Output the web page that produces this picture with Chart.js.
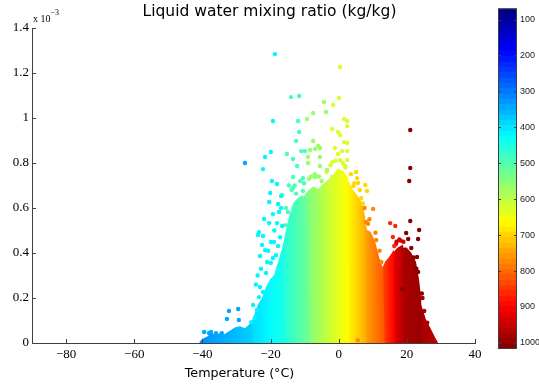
<!DOCTYPE html>
<html>
<head>
<meta charset="utf-8">
<script src="https://cdn.jsdelivr.net/npm/chart.js@4.4.1/dist/chart.umd.min.js"></script>
<style>
  html, body { margin: 0; padding: 0; background: #fff; }
  #wrap { position: relative; width: 539px; height: 385px; }
  #main { position: absolute; left: 0; top: 0; }
  #cbar { position: absolute; left: 480px; top: 0; }
</style>
</head>
<body>
<div id="wrap">
  <canvas id="main" width="539" height="385"></canvas>
  <canvas id="cbar" width="59" height="385"></canvas>
</div>
<script>
// pressure (hPa) of each group of points
const levels = [350, 410, 490, 560, 630, 700, 770, 865, 935, 1010, 975];

// dense part of each group, traced along its top edge
// temperature in °C, mixing ratio in 10^-3 kg/kg
const coreTemp = [
  [-40.7, -39.8, -38.4, -37.2, -36.0, -34.9, -33.4, -31.9, -30.4, -29.0, -27.5, -26.0, -25.4],
  [-26.9, -26.0, -25.4, -24.6, -23.4, -22.2, -21.0, -19.9, -18.7, -17.5, -16.3, -15.7],
  [-16.9, -16.3, -15.2, -14.3, -13.1, -11.9, -10.8, -9.6, -9.0],
  [-10.5, -10.5, -9.0, -7.5, -6.0, -4.6, -4.3],
  [-4.6, -4.6, -3.1, -1.6, -0.2, 1.3, 2.5, 2.8],
  [2.5, 2.5, 3.9, 5.4, 6.6, 7.5, 7.8],
  [6.9, 6.9, 8.0, 9.2, 10.4, 11.6, 12.7, 13.2],
  [12.2, 12.2, 13.0, 13.9, 15.1, 15.9, 16.3],
  [15.1, 15.1, 16.3, 17.4, 18.6, 19.2],
  [17.4, 17.4, 18.6, 19.8, 21.0, 22.4, 23.3, 23.9, 24.2],
  [22.0, 22.0, 23.3, 23.9, 25.4, 26.8, 28.3, 28.9]
];
const coreMix = [
  [0, 0.015, 0.025, 0.04, 0.03, 0.04, 0.035, 0.05, 0.065, 0.07, 0.06, 0.08, 0],
  [0, 0.05, 0.09, 0.12, 0.17, 0.2, 0.25, 0.28, 0.3, 0.36, 0.42, 0],
  [0, 0.42, 0.5, 0.56, 0.62, 0.64, 0.65, 0.64, 0],
  [0, 0.64, 0.67, 0.69, 0.68, 0.7, 0],
  [0, 0.7, 0.72, 0.74, 0.77, 0.76, 0.73, 0],
  [0, 0.72, 0.68, 0.65, 0.62, 0.56, 0],
  [0, 0.58, 0.5, 0.49, 0.45, 0.38, 0.33, 0],
  [0, 0.3, 0.33, 0.36, 0.38, 0.4, 0],
  [0, 0.38, 0.4, 0.42, 0.43, 0],
  [0, 0.4, 0.42, 0.42, 0.4, 0.36, 0.28, 0.2, 0],
  [0, 0.3, 0.25, 0.17, 0.1, 0.06, 0.015, 0]
];

// single points standing out of the dense part
const dotTemp = [
  [-32.2, -29.5, -32.8, -29.3, -37.5, -36.0, -34.3, -39.5, -38.1, -27.5],
  [-18.7, -19.3, -19.9, -21.6, -22.2, -19.6, -18.1, -20.1, -16.9, -20.4, -17.8, -16.9, -17.5,
   -19.3, -21.9, -20.4, -18.1, -23.4, -23.7, -22.2, -19.9, -19.0, -22.5, -17.8, -21.6, -23.1,
   -19.3, -21.0, -19.9, -21.3, -23.1, -22.2, -23.4, -25.1, -24.0, -25.7, -24.6,
   -24.3, -23.8, -22.8, -20.7, -18.4, -17.2, -16.6, -18.9],
  [-14.0, -11.6, -11.9, -11.6, -12.5, -15.2, -11.0, -9.9, -13.4, -12.2, -13.4, -10.5, -13.4,
   -10.5, -16.6, -15.7, -14.9, -12.5, -15.5, -14.6, -13.8, -12.9, -11.3, -10.2],
  [-9.3, -7.5, -4.3, -3.7, -7.5, -6.0, -5.5, -6.9, -8.4, -9.0, -5.5, -9.0, -5.5, -6.9, -7.5,
   -3.4, -8.2, -5.0, -8.7, -7.0, -5.8],
  [0.4, 0.1, -1.6, 1.6, 2.5, 2.5, -1.9, -0.2, 0.4, 1.6, 2.5, -1.1, 1.0, 2.5, -0.2, -1.9, 0.4,
   2.5, 1.9, -1.9, -3.1, -3.6, -2.4, -0.9, 1.2, 2.0],
  [5.1, 5.4, 4.3, 5.7, 7.8, 8.3, 6.6, 3.6, 4.6, 6.2, 7.1],
  [10.1, 8.0, 11.0, 12.5, 5.6, 9.0, 7.6, 8.6, 10.8, 12.0],
  [15.1, 16.6, 15.9, 16.3],
  [17.0, 18.2, 16.8, 17.8, 19.0],
  [21.0, 21.0, 20.7, 21.0, 23.6, 19.8, 23.3, 20.4, 21.3, 23.0, 23.3, 18.6, 22.0, 22.8, 24.4],
  [25.1, 24.6, 26.0]
];
const dotMix = [
  [0.142, 0.151, 0.107, 0.102, 0.049, 0.044, 0.044, 0.049, 0.044, 0.80],
  [1.284, 0.987, 0.849, 0.827, 0.773, 0.72, 0.707, 0.667, 0.653, 0.627, 0.618, 0.60, 0.582,
   0.573, 0.551, 0.533, 0.533, 0.493, 0.48, 0.476, 0.449, 0.449, 0.436, 0.431, 0.413, 0.387,
   0.378, 0.36, 0.356, 0.311, 0.249, 0.227, 0.204, 0.169, 0.147, 0.093, 0.111,
   0.26, 0.3, 0.33, 0.41, 0.39, 0.47, 0.52, 0.5],
  [1.093, 1.098, 0.987, 0.938, 0.898, 0.84, 0.853, 0.853, 0.818, 0.787, 0.738, 0.733, 0.689,
   0.676, 0.658, 0.524, 0.582, 0.664, 0.6, 0.7, 0.68, 0.7, 0.72, 0.71],
  [0.996, 1.022, 1.071, 1.027, 0.898, 0.876, 0.867, 0.862, 0.858, 0.827, 0.827, 0.80, 0.787,
   0.738, 0.68, 0.769, 0.74, 0.72, 0.73, 0.75, 0.74],
  [1.227, 1.089, 1.058, 0.996, 0.987, 0.964, 0.951, 0.938, 0.924, 0.893, 0.889, 0.867, 0.853,
   0.853, 0.84, 0.804, 0.813, 0.813, 0.787, 0.738, 0.689, 0.76, 0.79, 0.81, 0.8, 0.78],
  [0.76, 0.733, 0.698, 0.711, 0.702, 0.676, 0.644, 0.75, 0.71, 0.68, 0.62],
  [0.596, 0.538, 0.458, 0.36, 0.012, 0.55, 0.6, 0.53, 0.49, 0.41],
  [0.533, 0.52, 0.471, 0.431],
  [0.45, 0.455, 0.44, 0.46, 0.45],
  [0.947, 0.778, 0.72, 0.542, 0.502, 0.489, 0.462, 0.462, 0.422, 0.382, 0.316, 0.24, 0.38, 0.33, 0.22],
  [0.142, 0.2, 0.09]
];

const xTicks = [-80, -60, -40, -20, 0, 20, 40];
const yTicks = [0, 0.2, 0.4, 0.6, 0.8, 1, 1.2, 1.4];
const cbTicks = [100, 200, 300, 400, 500, 600, 700, 800, 900, 1000];
const cbRange = [69, 1017];

const axisColor = "#404040";

// matlab style jet colormap
function jet(f) {
    const c = v => Math.round(255 * Math.max(0, Math.min(1, v)));
    return "rgb(" + c(Math.min(4 * f - 1.5, -4 * f + 4.5)) + "," +
        c(Math.min(4 * f - 0.5, -4 * f + 3.5)) + "," +
        c(Math.min(4 * f + 0.5, -4 * f + 2.5)) + ")";
}
function pFrac(p) {
    return Math.max(0, Math.min(1, (p - cbRange[0]) / (cbRange[1] - cbRange[0])));
}
function pColor(p) {
    const k = Math.min(63, Math.floor(pFrac(p) * 64));
    return jet((k + 0.5) / 64);
}

// colour of a dense block drifts with temperature, between its neighbours
function coreFill(i) {
    return c => {
        const { chart } = c;
        if (!chart.chartArea) return pColor(levels[i]);
        const x = chart.scales.x;
        const t = coreTemp[i];
        const x0 = x.getPixelForValue(t[0]);
        const x1 = x.getPixelForValue(t[t.length - 1]);
        const pl = i > 0 ? (levels[i - 1] + levels[i]) / 2 : levels[i] - 30;
        const pr = i < levels.length - 1 ? (levels[i] + levels[i + 1]) / 2 : levels[i] - 15;
        const g = chart.ctx.createLinearGradient(x0, 0, x1, 0);
        for (let k = 0; k <= 8; k++) {
            const p = pl + (pr - pl) * k / 8;
            g.addColorStop(k / 8, jet(pFrac(p)));
        }
        return g;
    };
}

const datasets = [];
levels.forEach((p, i) => {
    const col = pColor(p);
    datasets.push({
        type: "line",
        order: 2,
        data: coreTemp[i].map((t, j) => ({ x: t, y: coreMix[i][j] })),
        fill: "origin",
        backgroundColor: coreFill(i),
        borderColor: coreFill(i),
        borderWidth: 2,
        pointRadius: 0,
        tension: 0
    });
    datasets.push({
        order: 1,
        data: dotTemp[i].map((t, j) => ({ x: t, y: dotMix[i][j] })),
        backgroundColor: col,
        borderWidth: 0,
        pointRadius: 2.2
    });
});

// inward ticks, title, axis label and exponent
const decor = {
    id: "decor",
    afterDraw(chart) {
        const { ctx, chartArea: a, scales: { x, y } } = chart;
        ctx.save();
        ctx.strokeStyle = axisColor;
        ctx.lineWidth = 1;
        ctx.beginPath();
        xTicks.forEach(v => {
            const px = Math.round(x.getPixelForValue(v)) + 0.5;
            ctx.moveTo(px, a.bottom);
            ctx.lineTo(px, a.bottom - 4);
        });
        yTicks.forEach(v => {
            const py = Math.round(y.getPixelForValue(v)) + 0.5;
            ctx.moveTo(a.left, py);
            ctx.lineTo(a.left + 4, py);
        });
        ctx.stroke();

        ctx.fillStyle = "#000";
        ctx.textBaseline = "alphabetic";
        ctx.textAlign = "center";
        ctx.font = '15.5px "DejaVu Sans"';
        ctx.fillText("Liquid water mixing ratio (kg/kg)", 269.5, 16);
        ctx.font = '12.7px "DejaVu Sans"';
        ctx.fillText("Temperature (°C)", 239.5, 377);

        ctx.textAlign = "left";
        ctx.font = '10px "Liberation Serif"';
        ctx.fillText("x 10", 33, 22);
        ctx.font = '8px "Liberation Serif"';
        ctx.fillText("\u22123", 50.5, 15);
        ctx.restore();
    }
};

new Chart(document.getElementById("main"), {
    type: "scatter",
    data: { datasets },
    options: {
        responsive: false,
        animation: false,
        layout: { padding: { top: 28, right: 64, bottom: 0, left: 0 } },
        plugins: { legend: { display: false }, tooltip: { enabled: false } },
        scales: {
            x: {
                type: "linear",
                min: -90,
                max: 40,
                afterBuildTicks: s => { s.ticks = xTicks.map(v => ({ value: v })); },
                afterFit: s => { s.height = 42; },
                grid: { display: false, drawTicks: false },
                border: { display: true, color: axisColor, width: 1 },
                ticks: {
                    font: { family: "Liberation Serif", size: 13 },
                    color: "#000",
                    padding: 4,
                    maxRotation: 0,
                    callback: v => String(v).replace("-", "\u2212")
                }
            },
            y: {
                min: 0,
                max: 1.4,
                afterBuildTicks: s => { s.ticks = yTicks.map(v => ({ value: v })); },
                afterFit: s => { s.width = 32; },
                grid: { display: false, drawTicks: false },
                border: { display: true, color: axisColor, width: 1 },
                ticks: {
                    font: { family: "Liberation Serif", size: 13 },
                    color: "#000",
                    padding: 3,
                    callback: v => String(+v.toFixed(1))
                }
            }
        }
    },
    plugins: [decor]
});

// colorbar
const cbFrame = {
    id: "cbFrame",
    afterDraw(chart) {
        const { ctx, chartArea: a, scales: { y } } = chart;
        ctx.save();
        ctx.strokeStyle = axisColor;
        ctx.lineWidth = 1;
        ctx.strokeRect(a.left + 0.5, a.top + 0.5, a.right - a.left - 1, a.bottom - a.top - 1);
        ctx.beginPath();
        cbTicks.forEach(v => {
            const py = Math.round(y.getPixelForValue(v)) + 0.5;
            ctx.moveTo(a.left, py);
            ctx.lineTo(a.left + 3, py);
            ctx.moveTo(a.right - 3, py);
            ctx.lineTo(a.right, py);
        });
        ctx.stroke();
        ctx.restore();
    }
};

new Chart(document.getElementById("cbar"), {
    type: "bar",
    data: {
        labels: [""],
        datasets: [{
            data: [cbRange],
            barPercentage: 1,
            categoryPercentage: 1,
            borderWidth: 0,
            backgroundColor: c => {
                const a = c.chart.chartArea;
                if (!a) return "transparent";
                const g = c.chart.ctx.createLinearGradient(0, a.top, 0, a.bottom);
                for (let k = 0; k < 64; k++) {
                    const col = jet((k + 0.5) / 64);
                    g.addColorStop(k / 64, col);
                    g.addColorStop((k + 1) / 64, col);
                }
                return g;
            }
        }]
    },
    options: {
        responsive: false,
        animation: false,
        layout: { padding: { left: 18, top: 8, bottom: 36, right: 0 } },
        plugins: { legend: { display: false }, tooltip: { enabled: false } },
        scales: {
            x: { display: false },
            y: {
                position: "right",
                reverse: true,
                min: cbRange[0],
                max: cbRange[1],
                afterBuildTicks: s => { s.ticks = cbTicks.map(v => ({ value: v })); },
                afterFit: s => { s.width = 22; },
                grid: { display: false, drawTicks: false },
                border: { display: false },
                ticks: {
                    font: { family: "Liberation Sans", size: 9 },
                    color: "#222",
                    padding: 3,
                    callback: v => String(v)
                }
            }
        }
    },
    plugins: [cbFrame]
});
</script>
</body>
</html>
